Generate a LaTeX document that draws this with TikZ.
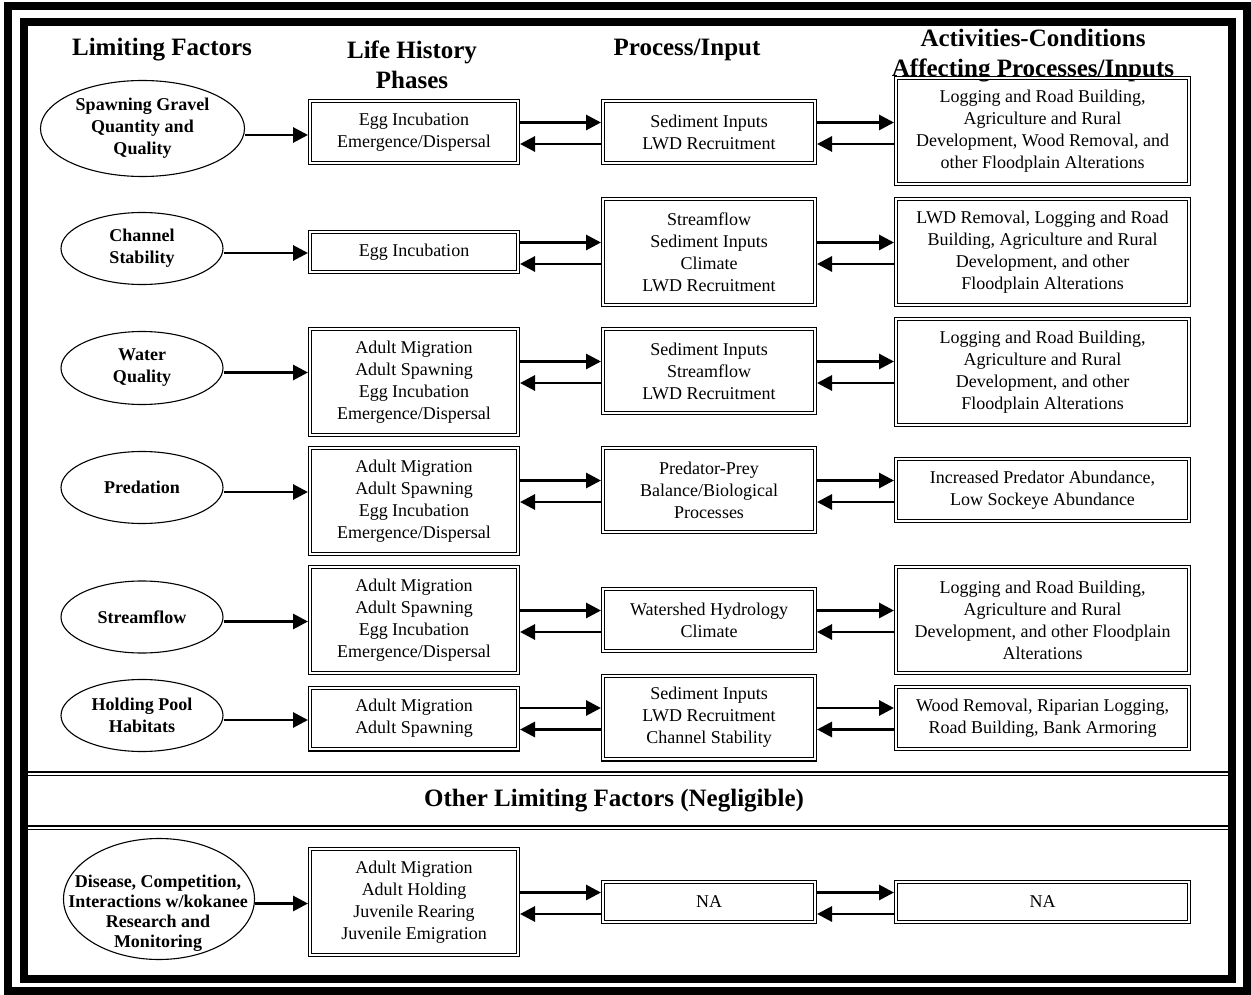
\documentclass[tikz,border=0pt]{standalone}
\usepackage{fontspec}
\setmainfont{Liberation Serif}
\usetikzlibrary{arrows.meta,shapes.geometric,calc}
\begin{document}
\begin{tikzpicture}[x=1pt,y=-1pt,
  frameline/.style={line width=8pt},
  rule/.style={line width=2pt},
  thinrule/.style={line width=1.2pt},
  dbox/.style={draw, line width=1.3pt, double distance=1.8pt, inner sep=0pt,
    outer sep=2.2pt, align=center, font=\fontsize{18}{22}\selectfont},
  colLH/.style={dbox, minimum width=207.6pt},
  colP/.style={dbox, minimum width=211.6pt},
  colA/.style={dbox, minimum width=292.6pt},
  sz1/.style={minimum height=39.6pt},
  sz2/.style={minimum height=61.6pt},
  sz3/.style={minimum height=83.6pt},
  sz4/.style={minimum height=105.6pt},
  factor/.style={draw, ellipse, line width=1.1pt, inner sep=0pt, align=center,
    font=\fontsize{18}{22}\selectfont\bfseries},
  ftext/.style={inner sep=0pt, align=center, font=\fontsize{18}{20}\selectfont\bfseries},
  head/.style={align=center, font=\fontsize{25}{30}\selectfont\bfseries},
  arr/.style={line width=2.9pt, -{Triangle[length=15pt,width=15pt]}},
]
\useasboundingbox (0,0) rectangle (1251,995);

% double outer frame
\draw[frameline] (8,6) rectangle (1246.5,991);
\draw[frameline] (24,22) rectangle (1231.5,979);

% rules around the band of minor factors
\draw[rule] (28,772) -- (1228,772);
\draw[thinrule] (28,775.8) -- (1228,775.8);
\draw[rule] (28,826) -- (1228,826);
\draw[thinrule] (28,829.6) -- (1228,829.6);

% column headings
\node[head] (hLF) at (162,50) {Limiting Factors};
\node[head] (hLH) at (412,65) {Life History\\Phases};
\node[head] (hPI) at (687,50) {Process/Input};
\node[head] (hAC) at (1033,56) {Activities-Conditions\\Affecting Processes/Inputs};

% limiting factors
\node[factor, minimum width=204pt, minimum height=96pt] (e1) at (142.5,128.5) {Spawning Gravel\\Quantity and\\Quality};
\node[factor, minimum width=162pt, minimum height=72pt] (e2) at (142,248.5) {Channel\\Stability};
\node[factor, minimum width=162pt, minimum height=73pt] (e3) at (142,368) {Water\\Quality};
\node[factor, minimum width=162pt, minimum height=72pt] (e4) at (142,487.5) {Predation};
\node[factor, minimum width=162pt, minimum height=72pt] (e5) at (142,617) {Streamflow};
\node[factor, minimum width=162pt, minimum height=72pt] (e6) at (142,715.5) {Holding Pool\\Habitats};
\node[draw, ellipse, line width=1.1pt, minimum width=191pt, minimum height=121pt] (e7) at (159,899) {};
\node[ftext] (e7t) at (158,913) {Disease, Competition,\\Interactions w/kokanee\\Research and\\Monitoring};

% row 1
\node[colLH, sz2] (lh1) at (414,132) {Egg Incubation\\Emergence/Dispersal};
\node[colP, sz2] (p1) at (709,132) {Sediment Inputs\\LWD Recruitment};
\node[colA, sz4] (a1) at (1042.5,131) {Logging and Road Building,\\Agriculture and Rural\\Development, Wood Removal, and\\other Floodplain Alterations};
% row 2
\node[colLH, sz1] (lh2) at (414,252) {Egg Incubation};
\node[colP, sz4] (p2) at (709,252) {Streamflow\\Sediment Inputs\\Climate\\LWD Recruitment};
\node[colA, sz4] (a2) at (1042.5,252) {LWD Removal, Logging and Road\\Building, Agriculture and Rural\\Development, and other\\Floodplain Alterations};
% row 3
\node[colLH, sz4] (lh3) at (414,382) {Adult Migration\\Adult Spawning\\Egg Incubation\\Emergence/Dispersal};
\node[colP, sz3] (p3) at (709,371) {Sediment Inputs\\Streamflow\\LWD Recruitment};
\node[colA, sz4] (a3) at (1042.5,372) {Logging and Road Building,\\Agriculture and Rural\\Development, and other\\Floodplain Alterations};
% row 4
\node[colLH, sz4] (lh4) at (414,501) {Adult Migration\\Adult Spawning\\Egg Incubation\\Emergence/Dispersal};
\node[colP, sz3] (p4) at (709,490) {Predator-Prey\\Balance/Biological\\Processes};
\node[colA, sz2] (a4) at (1042.5,490) {Increased Predator Abundance,\\Low Sockeye Abundance};
% row 5
\node[colLH, sz4] (lh5) at (414,620) {Adult Migration\\Adult Spawning\\Egg Incubation\\Emergence/Dispersal};
\node[colP, sz2] (p5) at (709,620) {Watershed Hydrology\\Climate};
\node[colA, sz4] (a5) at (1042.5,620) {Logging and Road Building,\\Agriculture and Rural\\Development, and other Floodplain\\Alterations};
% row 6
\node[colLH, sz2] (lh6) at (414,718.5) {Adult Migration\\Adult Spawning};
\node[colP, sz3] (p6) at (709,717.5) {Sediment Inputs\\LWD Recruitment\\Channel Stability};
\node[colA, sz2] (a6) at (1042.5,718) {Wood Removal, Riparian Logging,\\Road Building, Bank Armoring};

% band of minor factors
\node[head] (other) at (614,801) {Other Limiting Factors (Negligible)};

% row 7
\node[colLH, sz4] (lh7) at (414,902) {Adult Migration\\Adult Holding\\Juvenile Rearing\\Juvenile Emigration};
\node[colP, sz1] (p7) at (709,902) {NA};
\node[colA, sz1] (a7) at (1042.5,902) {NA};

% connectors
\foreach \i/\dy in {1/6.5,2/4.5,3/4.5,4/4.5,5/4.5,6/4.5,7/4.5}{
  \coordinate (s\i) at ([yshift=-\dy pt]e\i.east);
  \draw[arr] (s\i) -- (s\i -| lh\i.west);
  \coordinate (u\i) at ($(p\i.center)+(0,-9.5)$);
  \coordinate (d\i) at ($(p\i.center)+(0,12)$);
  \draw[arr] (u\i -| lh\i.east) -- (u\i -| p\i.west);
  \draw[arr] (d\i -| p\i.west) -- (d\i -| lh\i.east);
  \draw[arr] (u\i -| p\i.east) -- (u\i -| a\i.west);
  \draw[arr] (d\i -| a\i.west) -- (d\i -| p\i.east);
}
\end{tikzpicture}
\end{document}
